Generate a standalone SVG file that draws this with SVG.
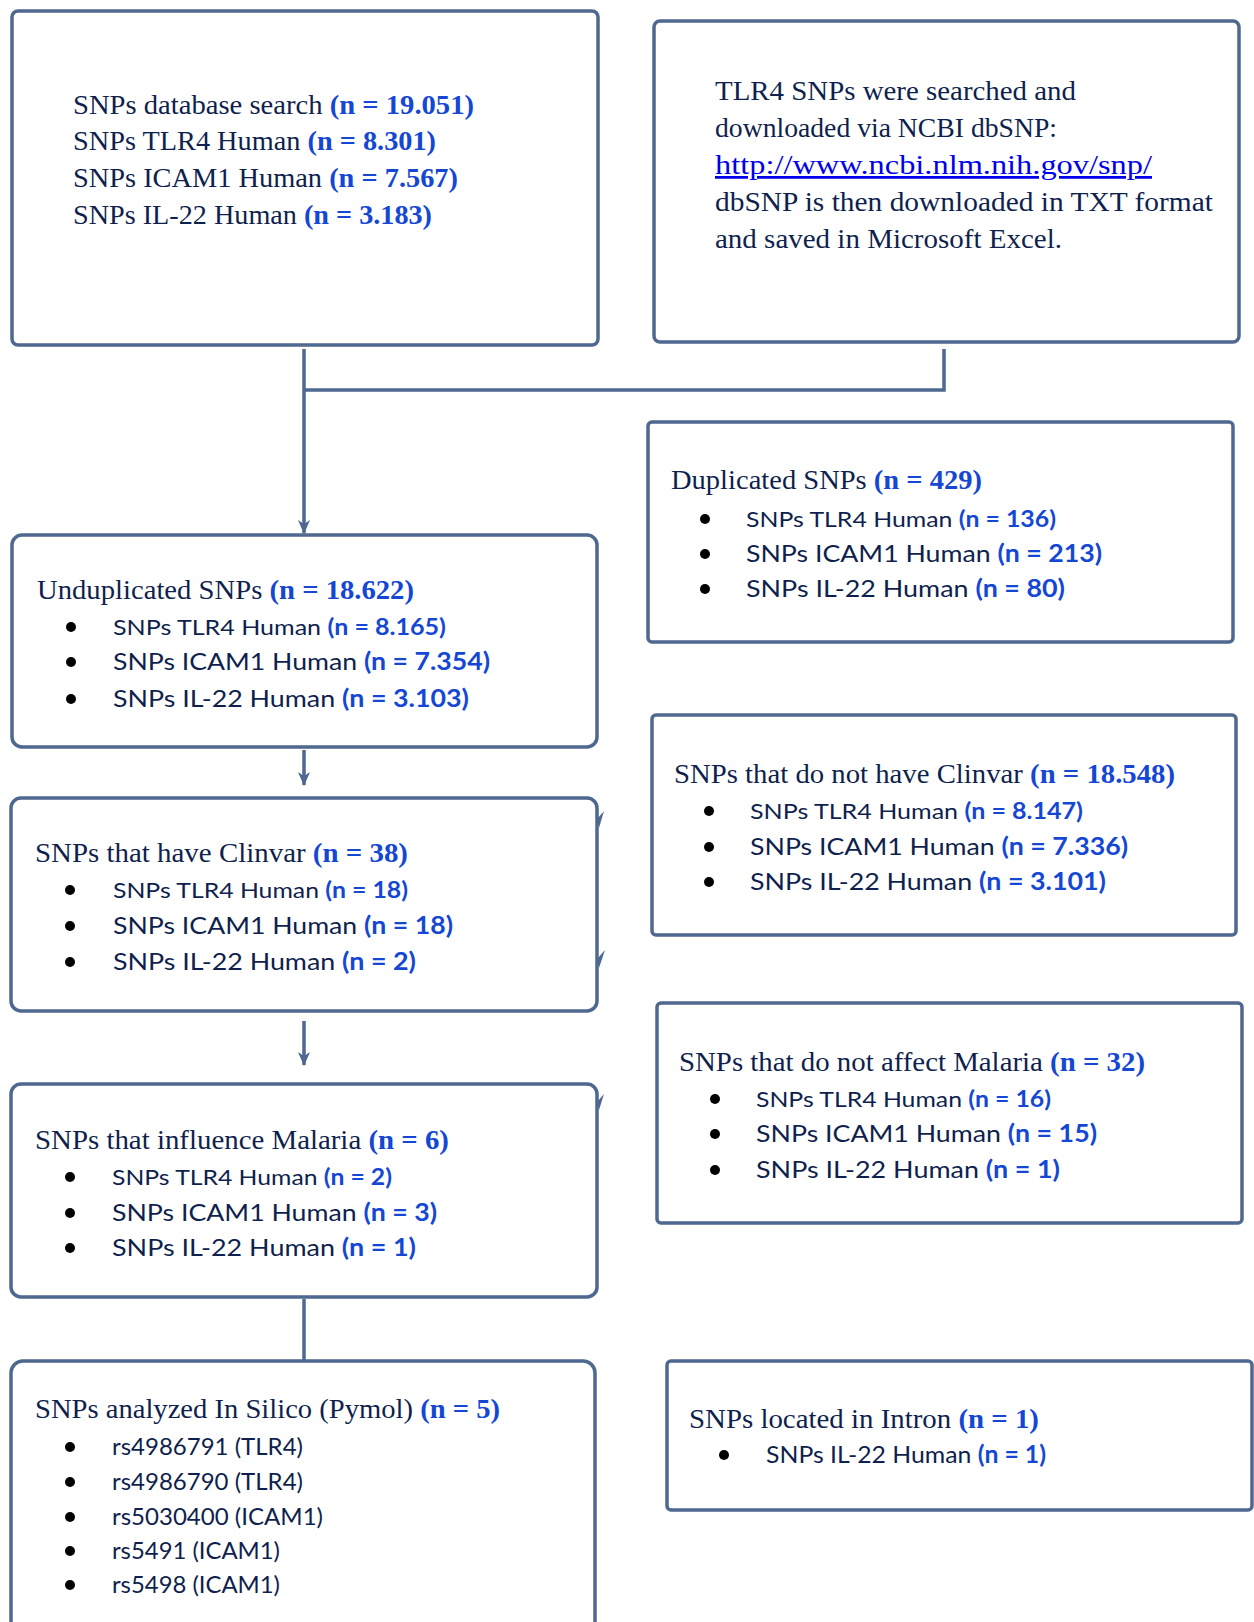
<svg xmlns="http://www.w3.org/2000/svg" width="1254" height="1622" viewBox="0 0 1254 1622">
<style>
.box{fill:#fff;stroke:#4e6890;stroke-width:3.5}
.ln{fill:none;stroke:#4e6890;stroke-width:3.5}
.hd{font-family:"Liberation Serif",serif;font-size:27.5px;fill:#0f1f4e}
.hd .n{font-weight:bold;fill:#1447d4}
.bl{font-family:Lato,"Liberation Sans",sans-serif;font-size:24px;fill:#0f1f4e}
.bl .n{font-weight:bold;fill:#1447d4}
.sm{font-size:22px}
.lk{fill:#0000ee;text-decoration:underline}
.dot{fill:#000}
</style>
<defs>
<marker id="ah" viewBox="0 0 14 14" refX="13" refY="7" markerWidth="14" markerHeight="14" markerUnits="userSpaceOnUse" orient="auto">
<path d="M0,1 L14,7 L0,13 L4,7 z" fill="#4e6890"/>
</marker>
</defs>

<g id="connectors">
<path class="ln" d="M304,349 V533" marker-end="url(#ah)"/>
<path class="ln" d="M944,349 V390 H304"/>
<path class="ln" d="M304,750 V785" marker-end="url(#ah)"/>
<path class="ln" d="M304,1021 V1065" marker-end="url(#ah)"/>
<path class="ln" d="M304,1299 V1361"/>
<path d="M597,819 L604,811 L599,828 z" fill="#4e6890"/>
<path d="M597,959 L605,950 L599,968 z" fill="#4e6890"/>
<path d="M597,1102 L604,1094 L599,1110 z" fill="#4e6890"/>
</g>

<g id="n1">
<rect class="box" x="12" y="11" width="586" height="334" rx="6"/>
<text class="hd" x="73" y="114" textLength="401" lengthAdjust="spacingAndGlyphs">SNPs database search <tspan class="n">(n = 19.051)</tspan></text>
<text class="hd" x="73" y="150" textLength="363" lengthAdjust="spacingAndGlyphs">SNPs TLR4 Human <tspan class="n">(n = 8.301)</tspan></text>
<text class="hd" x="73" y="187" textLength="385" lengthAdjust="spacingAndGlyphs">SNPs ICAM1 Human <tspan class="n">(n = 7.567)</tspan></text>
<text class="hd" x="73" y="224" textLength="359" lengthAdjust="spacingAndGlyphs">SNPs IL-22 Human <tspan class="n">(n = 3.183)</tspan></text>
</g>

<g id="n2">
<rect class="box" x="654" y="21" width="585" height="321" rx="6"/>
<text class="hd" x="715" y="100" textLength="361" lengthAdjust="spacingAndGlyphs">TLR4 SNPs were searched and</text>
<text class="hd" x="715" y="137" textLength="342" lengthAdjust="spacingAndGlyphs">downloaded via NCBI dbSNP:</text>
<text class="hd lk" x="715" y="174" textLength="437" lengthAdjust="spacingAndGlyphs">http://www.ncbi.nlm.nih.gov/snp/</text>
<text class="hd" x="715" y="211" textLength="498" lengthAdjust="spacingAndGlyphs">dbSNP is then downloaded in TXT format</text>
<text class="hd" x="715" y="248" textLength="347" lengthAdjust="spacingAndGlyphs">and saved in Microsoft Excel.</text>
</g>

<g id="n3">
<rect class="box" x="648" y="422" width="585" height="220" rx="4"/>
<text class="hd" x="671" y="489" textLength="311" lengthAdjust="spacingAndGlyphs">Duplicated SNPs <tspan class="n">(n = 429)</tspan></text>
<circle class="dot" cx="705" cy="519" r="5"/>
<circle class="dot" cx="705" cy="554" r="5"/>
<circle class="dot" cx="705" cy="589" r="5"/>
<text class="bl sm" x="746" y="527" textLength="310" lengthAdjust="spacingAndGlyphs">SNPs TLR4 Human <tspan class="n">(n = 136)</tspan></text>
<text class="bl" x="746" y="562" textLength="356" lengthAdjust="spacingAndGlyphs">SNPs ICAM1 Human <tspan class="n">(n = 213)</tspan></text>
<text class="bl" x="746" y="597" textLength="319" lengthAdjust="spacingAndGlyphs">SNPs IL-22 Human <tspan class="n">(n = 80)</tspan></text>
</g>

<g id="n4">
<rect class="box" x="12" y="535" width="585" height="212" rx="10"/>
<text class="hd" x="37" y="599" textLength="377" lengthAdjust="spacingAndGlyphs">Unduplicated SNPs <tspan class="n">(n = 18.622)</tspan></text>
<circle class="dot" cx="71" cy="627" r="5"/>
<circle class="dot" cx="71" cy="662" r="5"/>
<circle class="dot" cx="71" cy="699" r="5"/>
<text class="bl sm" x="113" y="635" textLength="333" lengthAdjust="spacingAndGlyphs">SNPs TLR4 Human <tspan class="n">(n = 8.165)</tspan></text>
<text class="bl" x="113" y="670" textLength="377" lengthAdjust="spacingAndGlyphs">SNPs ICAM1 Human <tspan class="n">(n = 7.354)</tspan></text>
<text class="bl" x="113" y="707" textLength="356" lengthAdjust="spacingAndGlyphs">SNPs IL-22 Human <tspan class="n">(n = 3.103)</tspan></text>
</g>

<g id="n5">
<rect class="box" x="652" y="715" width="584" height="220" rx="4"/>
<text class="hd" x="674" y="783" textLength="501" lengthAdjust="spacingAndGlyphs">SNPs that do not have Clinvar <tspan class="n">(n = 18.548)</tspan></text>
<circle class="dot" cx="709" cy="811" r="5"/>
<circle class="dot" cx="709" cy="847" r="5"/>
<circle class="dot" cx="709" cy="882" r="5"/>
<text class="bl sm" x="750" y="819" textLength="333" lengthAdjust="spacingAndGlyphs">SNPs TLR4 Human <tspan class="n">(n = 8.147)</tspan></text>
<text class="bl" x="750" y="855" textLength="378" lengthAdjust="spacingAndGlyphs">SNPs ICAM1 Human <tspan class="n">(n = 7.336)</tspan></text>
<text class="bl" x="750" y="890" textLength="356" lengthAdjust="spacingAndGlyphs">SNPs IL-22 Human <tspan class="n">(n = 3.101)</tspan></text>
</g>

<g id="n6">
<rect class="box" x="11" y="798" width="586" height="213" rx="10"/>
<text class="hd" x="35" y="862" textLength="373" lengthAdjust="spacingAndGlyphs">SNPs that have Clinvar <tspan class="n">(n = 38)</tspan></text>
<circle class="dot" cx="70" cy="890" r="5"/>
<circle class="dot" cx="70" cy="926" r="5"/>
<circle class="dot" cx="70" cy="962" r="5"/>
<text class="bl sm" x="113" y="898" textLength="295" lengthAdjust="spacingAndGlyphs">SNPs TLR4 Human <tspan class="n">(n = 18)</tspan></text>
<text class="bl" x="113" y="934" textLength="340" lengthAdjust="spacingAndGlyphs">SNPs ICAM1 Human <tspan class="n">(n = 18)</tspan></text>
<text class="bl" x="113" y="970" textLength="303" lengthAdjust="spacingAndGlyphs">SNPs IL-22 Human <tspan class="n">(n = 2)</tspan></text>
</g>

<g id="n7">
<rect class="box" x="657" y="1003" width="585" height="220" rx="4"/>
<text class="hd" x="679" y="1071" textLength="466" lengthAdjust="spacingAndGlyphs">SNPs that do not affect Malaria <tspan class="n">(n = 32)</tspan></text>
<circle class="dot" cx="715" cy="1099" r="5"/>
<circle class="dot" cx="715" cy="1134" r="5"/>
<circle class="dot" cx="715" cy="1170" r="5"/>
<text class="bl sm" x="756" y="1107" textLength="295" lengthAdjust="spacingAndGlyphs">SNPs TLR4 Human <tspan class="n">(n = 16)</tspan></text>
<text class="bl" x="756" y="1142" textLength="341" lengthAdjust="spacingAndGlyphs">SNPs ICAM1 Human <tspan class="n">(n = 15)</tspan></text>
<text class="bl" x="756" y="1178" textLength="304" lengthAdjust="spacingAndGlyphs">SNPs IL-22 Human <tspan class="n">(n = 1)</tspan></text>
</g>

<g id="n8">
<rect class="box" x="11" y="1084" width="586" height="213" rx="10"/>
<text class="hd" x="35" y="1149" textLength="414" lengthAdjust="spacingAndGlyphs">SNPs that influence Malaria <tspan class="n">(n = 6)</tspan></text>
<circle class="dot" cx="70" cy="1177" r="5"/>
<circle class="dot" cx="70" cy="1213" r="5"/>
<circle class="dot" cx="70" cy="1248" r="5"/>
<text class="bl sm" x="112" y="1185" textLength="280" lengthAdjust="spacingAndGlyphs">SNPs TLR4 Human <tspan class="n">(n = 2)</tspan></text>
<text class="bl" x="112" y="1221" textLength="325" lengthAdjust="spacingAndGlyphs">SNPs ICAM1 Human <tspan class="n">(n = 3)</tspan></text>
<text class="bl" x="112" y="1256" textLength="304" lengthAdjust="spacingAndGlyphs">SNPs IL-22 Human <tspan class="n">(n = 1)</tspan></text>
</g>

<g id="n9">
<rect class="box" x="11" y="1361" width="584" height="280" rx="12"/>
<text class="hd" x="35" y="1418" textLength="465" lengthAdjust="spacingAndGlyphs">SNPs analyzed In Silico (Pymol) <tspan class="n">(n = 5)</tspan></text>
<circle class="dot" cx="70" cy="1447" r="5"/>
<circle class="dot" cx="70" cy="1482" r="5"/>
<circle class="dot" cx="70" cy="1517" r="5"/>
<circle class="dot" cx="70" cy="1551" r="5"/>
<circle class="dot" cx="70" cy="1585" r="5"/>
<text class="bl" x="112" y="1455" textLength="191" lengthAdjust="spacingAndGlyphs">rs4986791 (TLR4)</text>
<text class="bl" x="112" y="1490" textLength="191" lengthAdjust="spacingAndGlyphs">rs4986790 (TLR4)</text>
<text class="bl" x="112" y="1525" textLength="211" lengthAdjust="spacingAndGlyphs">rs5030400 (ICAM1)</text>
<text class="bl" x="112" y="1559" textLength="168" lengthAdjust="spacingAndGlyphs">rs5491 (ICAM1)</text>
<text class="bl" x="112" y="1593" textLength="168" lengthAdjust="spacingAndGlyphs">rs5498 (ICAM1)</text>
</g>

<g id="n10">
<rect class="box" x="667" y="1361" width="585" height="149" rx="4"/>
<text class="hd" x="689" y="1428" textLength="350" lengthAdjust="spacingAndGlyphs">SNPs located in Intron <tspan class="n">(n = 1)</tspan></text>
<circle class="dot" cx="724" cy="1455" r="5"/>
<text class="bl" x="766" y="1463" textLength="280" lengthAdjust="spacingAndGlyphs">SNPs IL-22 Human <tspan class="n">(n = 1)</tspan></text>
</g>
</svg>
